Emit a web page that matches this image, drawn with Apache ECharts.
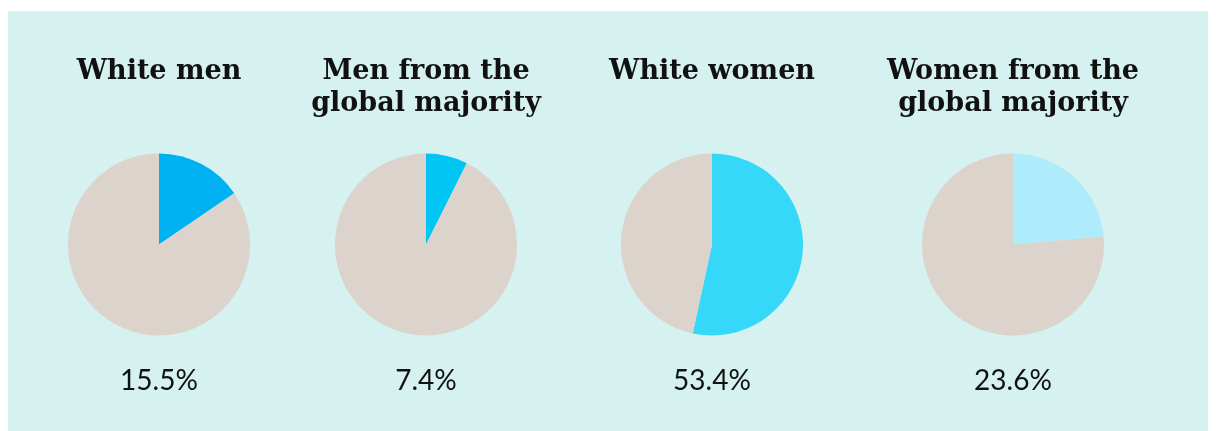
<!DOCTYPE html>
<html>
<head>
<meta charset="utf-8">
<script src="https://cdn.jsdelivr.net/npm/echarts@6/dist/echarts.min.js"></script>
<style>
  html, body { margin: 0; padding: 0; background: #ffffff; }
  #main { width: 1216px; height: 431px; }
</style>
</head>
<body>
<div id="main"></div>
<script>
// groups and their share
var groups = ['White men', 'Men from the\nglobal majority', 'White women', 'Women from the\nglobal majority'];
var shares = [15.5, 7.4, 53.4, 23.6];
var shareLabels = ['15.5%', '7.4%', '53.4%', '23.6%'];
var colours = ['#00b1f1', '#00c4f2', '#36d8fa', '#aeebfb'];
var centersX = [159, 426, 712, 1013];

var restColour = '#dcd3cc';

var titles = [];
var series = [];

for (var i = 0; i < groups.length; i++) {
    titles.push({
        text: groups[i],
        left: centersX[i],
        top: 56,
        padding: 0,
        textAlign: 'center',
        textStyle: {
            fontFamily: 'DejaVu Serif',
            fontWeight: 'bold',
            fontSize: 27,
            lineHeight: 32,
            color: '#111111'
        }
    });
    titles.push({
        text: shareLabels[i],
        left: centersX[i],
        top: 367,
        padding: 0,
        textAlign: 'center',
        textStyle: {
            fontFamily: 'Lato',
            fontWeight: 'normal',
            fontSize: 28,
            color: '#111111'
        }
    });
    series.push({
        type: 'pie',
        center: [centersX[i], 244.5],
        radius: 91,
        startAngle: 90,
        clockwise: true,
        silent: true,
        label: { show: false },
        labelLine: { show: false },
        itemStyle: { borderWidth: 0 },
        data: [
            { value: shares[i], name: 'share', itemStyle: { color: colours[i] } },
            { value: 100 - shares[i], name: 'rest', itemStyle: { color: restColour } }
        ]
    });
}

var option = {
    animation: false,
    backgroundColor: '#ffffff',
    graphic: [
        {
            type: 'rect',
            z: -10,
            shape: { x: 8, y: 11, width: 1200, height: 420 },
            style: { fill: '#d5f2f0' }
        }
    ],
    title: titles,
    series: series
};

var chart = echarts.init(document.getElementById('main'));
chart.setOption(option);
window.addEventListener('resize', function () {
    chart.resize();
});
</script>
</body>
</html>
